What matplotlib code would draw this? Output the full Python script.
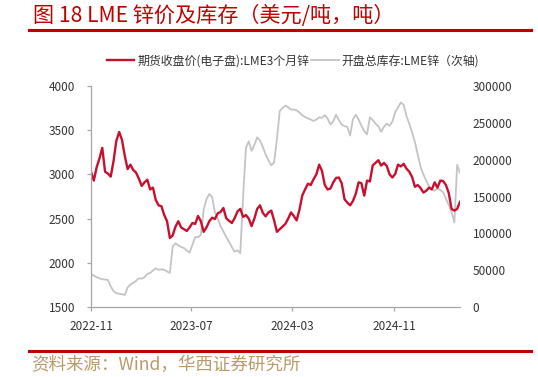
import pandas as pd
import matplotlib
matplotlib.use('Agg')
import matplotlib.pyplot as plt
from matplotlib.lines import Line2D

plt.rcParams['font.family'] = ['Noto Sans CJK SC', 'DejaVu Sans']

# LME 3-month zinc close, USD/t (weekly readings)
price = [3031, 2930, 3080, 3180, 3300, 3030, 3010, 2975, 3150, 3380,
         3480, 3390, 3210, 3060, 3110, 3050, 3020, 2950, 2870, 2910,
         2940, 2830, 2850, 2710, 2650, 2640, 2540, 2470, 2280, 2310,
         2410, 2470, 2400, 2380, 2360, 2400, 2450, 2440, 2530, 2470,
         2350, 2400, 2470, 2510, 2495, 2560, 2575, 2620, 2505, 2475,
         2450, 2505, 2580, 2610, 2520, 2540, 2500, 2415, 2500, 2610,
         2650, 2565, 2525, 2570, 2590, 2480, 2350, 2380, 2410, 2440,
         2500, 2570, 2530, 2480, 2600, 2760, 2830, 2895, 2880, 2945,
         3000, 3110, 3040, 2880, 2830, 2840, 2910, 2960, 2965, 2900,
         2720, 2680, 2650, 2700, 2780, 2910, 2900, 2760, 2930, 2920,
         3100, 3130, 3160, 3100, 3130, 3095, 3000, 2965, 3005, 3110,
         3090, 3120, 3065, 3030, 2970, 2860, 2880, 2845, 2795, 2815,
         2850, 2830, 2910, 2850, 2930, 2925, 2880, 2790, 2610, 2590,
         2610, 2690]

# LME zinc opening total stocks, t
stock = [44800, 42500, 40500, 38800, 37800, 37200, 36700, 28000, 21500, 18900,
         18000, 17300, 16400, 26500, 30500, 32800, 35500, 39000, 38500, 40400,
         45000, 46200, 49500, 52400, 50500, 51000, 50500, 48200, 46200, 82000,
         86500, 83600, 81500, 80100, 76500, 73700, 84500, 95000, 94700, 98000,
         132000, 146500, 153500, 149300, 128000, 120000, 109500, 102700, 95000, 88500,
         81400, 75000, 77000, 73000, 150000, 216000, 225000, 212000, 220000, 230300,
         226000, 217200, 207000, 199000, 192500, 196000, 228000, 266000, 270000, 273500,
         271000, 268000, 268000, 267000, 264000, 260300, 258000, 256000, 254500, 252500,
         254500, 257400, 257000, 260400, 255700, 247600, 252000, 261000, 253700, 247600,
         245500, 244400, 232800, 255000, 261000, 254500, 246000, 238700, 234400, 257500,
         253800, 249000, 245300, 237900, 244600, 248900, 246000, 251600, 264600, 271000,
         277500, 274500, 259200, 248700, 236800, 223900, 207000, 190200, 179800, 171500,
         164200, 159700, 157800, 160900, 158800, 155600, 146800, 138700, 129000, 115000,
         193000, 182000]

dates = pd.date_range('2022-11-01', '2025-04-09', periods=len(price))

xtick_dates = ['2022-11-01', '2023-07-01', '2024-03-01', '2024-11-01']
xtick_labels = ['2022-11', '2023-07', '2024-03', '2024-11']

label_price = '期货收盘价(电子盘):LME3个月锌'
label_stock = '开盘总库存:LME锌（次轴)'

fig = plt.figure(figsize=(5.38, 3.77), dpi=100)
ax = fig.add_axes([91 / 538, 1 - 307 / 377, 369 / 538, 221 / 377])
ax2 = ax.twinx()

l2, = ax2.plot(dates, stock, color='#C4C4C4', lw=1.3, label=label_stock)
l1, = ax.plot(dates, price, color='#C8102E', lw=1.7, label=label_price)
ax.set_zorder(ax2.get_zorder() + 1)
ax.patch.set_visible(False)

ax.set_xlim(pd.Timestamp('2022-11-01'), pd.Timestamp('2025-04-09'))
ax.set_ylim(1500, 4000)
ax.set_yticks(range(1500, 4001, 500))
ax2.set_ylim(0, 300000)
ax2.set_yticks(range(0, 300001, 50000))
ax.set_xticks(pd.to_datetime(xtick_dates))
ax.set_xticklabels(xtick_labels)

for s in ['top', 'right']:
    ax.spines[s].set_visible(False)
for s in ax2.spines.values():
    s.set_visible(False)
for s in ['left', 'bottom']:
    ax.spines[s].set_color('#A6A6A6')
    ax.spines[s].set_linewidth(0.9)

ax.tick_params(axis='y', length=3, width=0.9, color='#A6A6A6', pad=8.5,
               labelsize=8.5, labelcolor='#333333')
ax.tick_params(axis='x', length=3, width=0.9, color='#A6A6A6', pad=6,
               labelsize=8.5, labelcolor='#333333')
ax2.tick_params(axis='y', length=0, pad=9, labelsize=8.5, labelcolor='#333333')

fig.legend(handles=[l1, l2], loc='center', bbox_to_anchor=(293 / 538, 1 - 61 / 377),
           ncol=2, frameon=False, fontsize=8.6, handlelength=2.3,
           handletextpad=0.25, columnspacing=0.2, labelcolor='#333333')

# header and footer
fig.text(33 / 538, 1 - 16 / 377, '图 18 LME 锌价及库存（美元/吨，吨）', fontsize=15.2,
         color='#C00000', va='center', ha='left')
fig.add_artist(Line2D([29 / 538, 531 / 538], [1 - 30 / 377] * 2, color='#C00000', lw=2.2))
fig.add_artist(Line2D([29 / 538, 531 / 538], [1 - 351 / 377] * 2, color='#C00000', lw=2.2))
fig.text(31 / 538, 1 - 365 / 377, '资料来源：Wind，华西证券研究所', fontsize=12.6,
         color='#B99A6B', va='center', ha='left')

fig.savefig('out.png', dpi=100)
